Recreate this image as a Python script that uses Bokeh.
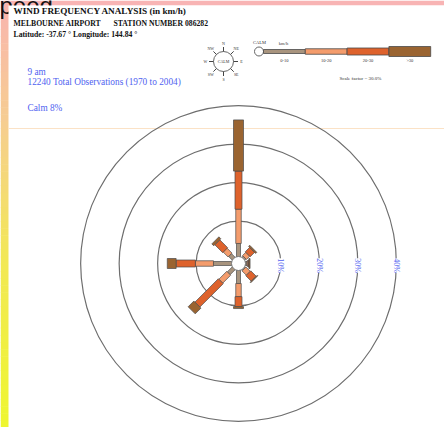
import math
from bokeh.plotting import figure
from bokeh.models import Range1d
from bokeh.embed import file_html
from bokeh.resources import INLINE
from bokeh.core.properties import value

# ---------------- data ----------------
directions = ["N", "NE", "E", "SE", "S", "SW", "W", "NW"]
direction_deg = [0, 45, 90, 135, 180, 225, 270, 315]
speed_classes = ["0-10", "10-20", "20-30", ">30"]
# frequency (%) of each speed class per direction
freq_0_10 = [4.2, 1.2, 1.2, 1.0, 4.2, 2.6, 5.5, 2.1]
freq_10_20 = [8.9, 1.2, 0.3, 1.6, 3.4, 2.9, 4.7, 1.8]
freq_20_30 = [9.9, 1.6, 0.2, 2.0, 2.6, 8.6, 5.0, 2.9]
freq_gt30 = [13.3, 0.4, 0.3, 0.2, 0.5, 2.1, 2.3, 0.7]
ring_pcts = [10, 20, 30, 40]
ring_labels = ["10%", "20%", "30%", "40%"]
calm_pct = 8
total_obs = 12240
years = (1970, 2004)
scale_factor = 30.0

# ---------------- layout ----------------
K = 3.85          # pixels per percent
OFF = 1.0         # radial offset of the rose (percent units)
CXR, CYR = 238, 263   # rose centre in picture pixels


def X(px):
    return (px - CXR) / K


def Y(py):
    return (CYR - py) / K


W, H = 444, 427
p = figure(width=W, height=H,
           x_range=Range1d(X(0), X(W)), y_range=Range1d(Y(H), Y(0)),
           output_backend="svg", toolbar_location=None,
           x_axis_location=None, y_axis_location=None, min_border=0)
p.grid.visible = False
p.outline_line_color = None
p.background_fill_color = "white"
p.border_fill_color = "white"

SERIF = value("Liberation Serif")
BLUE = "#4f5ff0"
COLORS = ["#a8947e", "#f49c6c", "#de622c", "#9a6431"]
WIDTHS_PX = [4, 5.5, 7, 10]
OUTLINE = "#4a4a4a"

# ---------------- slide background decoration ----------------
stops = [(0, (249, 180, 176)), (120, (246, 205, 145)), (260, (242, 232, 85)), (427, (238, 246, 48))]


def grad(yv):
    for (y0, c0), (y1, c1) in zip(stops[:-1], stops[1:]):
        if y0 <= yv <= y1:
            t = (yv - y0) / (y1 - y0)
            return "#%02x%02x%02x" % tuple(int(round(a + (b - a) * t)) for a, b in zip(c0, c1))
    return "#%02x%02x%02x" % stops[-1][1]


NSTRIP = 60
sl, sr, st, sb, sc = [], [], [], [], []
for i in range(NSTRIP):
    y0 = i * H / NSTRIP
    y1 = (i + 1) * H / NSTRIP
    sl.append(X(0)); sr.append(X(8.5)); st.append(Y(y0)); sb.append(Y(y1 + 0.5))
    sc.append(grad((y0 + y1) / 2))
p.quad(left=sl, right=sr, top=st, bottom=sb, fill_color=sc, line_color=None)
p.quad(left=[X(8)], right=[X(W)], top=[Y(0)], bottom=[Y(5)], fill_color="#f8b4b4", line_color=None)
p.text(x=[X(-1)], y=[Y(5)], text=["peed."], text_font=value("Liberation Sans"),
       text_font_size=value("24px"), text_align="left", text_baseline="alphabetic",
       text_color="#111111")
p.quad(left=[X(8)], right=[X(W)], top=[Y(5)], bottom=[Y(H)], fill_color="white", line_color=None)

# faint slide line
p.segment(x0=[X(8)], y0=[Y(128)], x1=[X(W)], y1=[Y(128)],
          line_color="#fbe2c6", line_width=1)

# ---------------- header texts ----------------
p.text(x=[X(13)], y=[Y(10.5)], text=["WIND FREQUENCY ANALYSIS (in km/h)"],
       text_font=SERIF, text_font_size=value("9.2px"), text_font_style="bold",
       text_baseline="middle", text_align="left", text_color="#111111")
p.text(x=[X(13), X(113)], y=[Y(23), Y(23)],
       text=["MELBOURNE AIRPORT", "STATION NUMBER 086282"],
       text_font=SERIF, text_font_size=value("7.7px"), text_font_style="bold",
       text_baseline="middle", text_align="left", text_color="#111111")
p.text(x=[X(13)], y=[Y(34)], text=["Latitude: -37.67 °  Longitude: 144.84 °"],
       text_font=SERIF, text_font_size=value("7.7px"), text_font_style="bold",
       text_baseline="middle", text_align="left", text_color="#111111")

p.text(x=[X(27), X(27), X(27)], y=[Y(71.5), Y(81), Y(107)],
       text=["9 am",
             f"{total_obs} Total Observations ({years[0]} to {years[1]})",
             f"Calm {calm_pct}%"],
       text_font=SERIF, text_font_size=value("9.3px"),
       text_baseline="middle", text_align="left", text_color=BLUE)

# ---------------- compass legend ----------------
CCX, CCY = 223, 61
p.circle(x=[X(CCX)], y=[Y(CCY)], radius=10 / K, fill_color="white",
         line_color="#666666", line_width=1)
sx0, sy0, sx1, sy1, lx, ly = [], [], [], [], [], []
for d in direction_deg:
    t = math.radians(d)
    sx0.append(X(CCX) + math.sin(t) * 10 / K)
    sy0.append(Y(CCY) + math.cos(t) * 10 / K)
    sx1.append(X(CCX) + math.sin(t) * 14.5 / K)
    sy1.append(Y(CCY) + math.cos(t) * 14.5 / K)
    lx.append(X(CCX) + math.sin(t) * 18 / K)
    ly.append(Y(CCY) + math.cos(t) * 18 / K)
p.segment(x0=sx0, y0=sy0, x1=sx1, y1=sy1, line_color="#444444", line_width=1)
p.text(x=lx, y=ly, text=directions, text_font=SERIF, text_font_size=value("4px"),
       text_align="center", text_baseline="middle", text_color="#333333",
       background_fill_color="white")
p.text(x=[X(CCX)], y=[Y(CCY)], text=["CALM"], text_font=SERIF,
       text_font_size=value("4px"), text_align="center", text_baseline="middle",
       text_color="#333333")

# ---------------- speed legend ----------------
LX0, LSEG, LY = 263, 41.8, 51
p.circle(x=[X(258.5)], y=[Y(LY)], radius=4.5 / K, fill_color="white",
         line_color="#666666", line_width=1)
p.text(x=[X(259)], y=[Y(42)], text=["CALM"], text_font=SERIF,
       text_font_size=value("4.5px"), text_align="center", text_baseline="middle",
       text_color="#333333")
p.text(x=[X(283)], y=[Y(43)], text=["km/h"], text_font=SERIF,
       text_font_size=value("4.5px"), text_align="center", text_baseline="middle",
       text_color="#333333")
lefts = [X(LX0 + i * LSEG) for i in range(4)]
rights = [X(LX0 + (i + 1) * LSEG) for i in range(4)]
tops = [Y(LY) + w / 2 / K for w in WIDTHS_PX]
bottoms = [Y(LY) - w / 2 / K for w in WIDTHS_PX]
p.quad(left=lefts, right=rights, top=tops, bottom=bottoms, fill_color=COLORS,
       line_color=OUTLINE, line_width=0.8)
p.text(x=[(a + b) / 2 for a, b in zip(lefts, rights)], y=[Y(60)] * 4,
       text=speed_classes, text_font=SERIF, text_font_size=value("4.5px"),
       text_align="center", text_baseline="middle", text_color="#333333")
p.text(x=[X(360)], y=[Y(78)], text=[f"Scale factor = {scale_factor:.1f}%"],
       text_font=SERIF, text_font_size=value("5px"), text_align="center",
       text_baseline="middle", text_color="#333333")

# ---------------- rings ----------------
ring_r = [OFF + r for r in ring_pcts]
p.circle(x=[0] * len(ring_r), y=[0] * len(ring_r), radius=ring_r,
         fill_color=None, line_color="#6e6e6e", line_width=1.2)

# ---------------- petals ----------------
classes = [freq_0_10, freq_10_20, freq_20_30, freq_gt30]
xs, ys, fills = [], [], []
for i, d in enumerate(direction_deg):
    t = math.radians(d)
    ux, uy = math.sin(t), math.cos(t)
    vx, vy = math.cos(t), -math.sin(t)
    r = OFF
    for c in range(4):
        f = classes[c][i]
        if f <= 0:
            continue
        r2 = r + f
        hw = WIDTHS_PX[c] / 2 / K
        xs.append([ux * r + vx * hw, ux * r2 + vx * hw, ux * r2 - vx * hw, ux * r - vx * hw])
        ys.append([uy * r + vy * hw, uy * r2 + vy * hw, uy * r2 - vy * hw, uy * r - vy * hw])
        fills.append(COLORS[c])
        r = r2
p.patches(xs, ys, fill_color=fills, line_color=OUTLINE, line_width=0.7)

# calm circle
p.circle(x=[0], y=[0], radius=7 / K, fill_color="white", line_color="#777777",
         line_width=1)

# ring labels
p.text(x=ring_r, y=[Y(265)] * len(ring_r), text=ring_labels, angle=-math.pi / 2,
       text_font=SERIF, text_font_size=value("8px"), text_align="center",
       text_baseline="middle", text_color=BLUE, background_fill_color="white")

open("out.html", "w").write(file_html(p, INLINE))
